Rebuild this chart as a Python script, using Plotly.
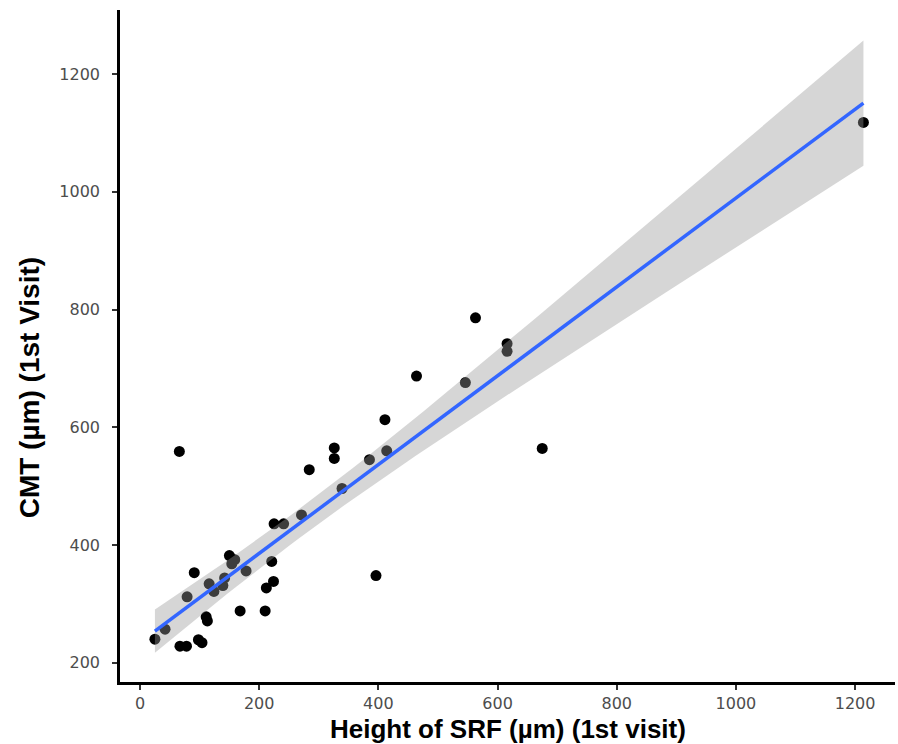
import numpy as np
import plotly.graph_objects as go

# Height of SRF (µm) at 1st visit
srf_height = [25, 42, 66, 67, 78, 79, 91, 98, 104, 111, 113, 116, 124, 139, 142,
              150, 154, 159, 168, 178, 210, 212, 221, 224, 225, 241, 271, 284,
              326, 326, 339, 385, 396, 411, 414, 464, 546, 563, 616, 616, 675, 1214]
# CMT (µm) at 1st visit
cmt = [240, 257, 559, 228, 228, 312, 353, 239, 234, 278, 271, 334, 321, 331, 344,
       382, 368, 375, 288, 356, 288, 327, 372, 338, 436, 436, 451, 528,
       565, 547, 496, 545, 348, 613, 560, 687, 676, 786, 742, 729, 564, 1118]

x_ticks = [0, 200, 400, 600, 800, 1000, 1200]
y_ticks = [200, 400, 600, 800, 1000, 1200]
x_title = "Height of SRF (µm) (1st visit)"
y_title = "CMT (µm) (1st Visit)"

# linear model fit with 95% confidence band (as geom_smooth(method="lm"))
x = np.array(srf_height, dtype=float)
y = np.array(cmt, dtype=float)
n = len(x)
slope, intercept = np.polyfit(x, y, 1)
resid = y - (intercept + slope * x)
s = np.sqrt(np.sum(resid ** 2) / (n - 2))
t_crit = 2.020
xg = np.linspace(x.min(), x.max(), 80)
yg = intercept + slope * xg
se = s * np.sqrt(1.0 / n + (xg - x.mean()) ** 2 / np.sum((x - x.mean()) ** 2))
lo = yg - t_crit * se
hi = yg + t_crit * se

fig = go.Figure()
fig.add_trace(go.Scatter(x=srf_height, y=cmt, mode="markers",
                         marker=dict(color="black", size=11), hoverinfo="skip"))
fig.add_trace(go.Scatter(x=xg, y=lo, mode="lines", line=dict(width=0),
                         hoverinfo="skip"))
fig.add_trace(go.Scatter(x=xg, y=hi, mode="lines", line=dict(width=0),
                         fill="tonexty", fillcolor="rgba(153,153,153,0.4)",
                         hoverinfo="skip"))
fig.add_trace(go.Scatter(x=xg, y=yg, mode="lines",
                         line=dict(color="#3366FF", width=3.5), hoverinfo="skip"))

axis_common = dict(showgrid=False, zeroline=False, showline=True,
                   linecolor="black", linewidth=2.5, mirror=False,
                   ticks="outside", ticklen=5, tickwidth=2, tickcolor="#333333",
                   tickfont=dict(family="DejaVu Sans", size=16, color="#4d4d4d"),
                   automargin=False)

title_font = dict(family="Liberation Sans, Arial", color="black")

fig.update_layout(
    width=898, height=744,
    margin=dict(l=120, r=3, t=10, b=62),
    paper_bgcolor="white", plot_bgcolor="white",
    showlegend=False,
    xaxis=dict(range=[-33.6, 1267], tickvals=x_ticks, ticklabelstandoff=0,
               **axis_common),
    yaxis=dict(range=[167.2, 1309], tickvals=y_ticks, ticklabelstandoff=9,
               **axis_common),
    annotations=[
        dict(text="<b>" + x_title + "</b>", xref="paper", yref="paper",
             x=0.5, y=-0.0705, xanchor="center", yanchor="middle",
             showarrow=False, font=dict(size=26, **title_font)),
        dict(text="<b>" + y_title + "</b>", xref="paper", yref="paper",
             x=-0.117, y=0.4375, xanchor="center", yanchor="middle",
             textangle=-90, showarrow=False, font=dict(size=28, **title_font)),
    ],
)

fig.write_html("out.html")
